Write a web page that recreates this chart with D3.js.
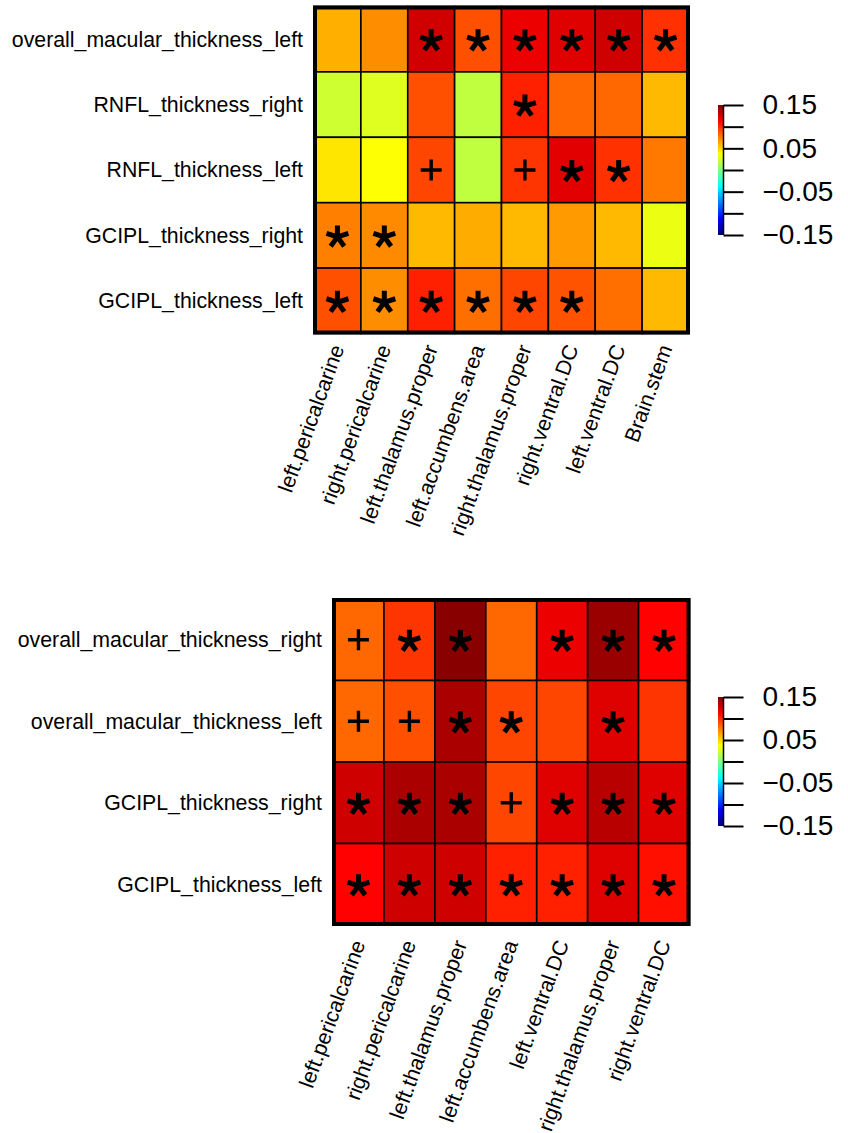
<!DOCTYPE html>
<html>
<head>
<meta charset="utf-8">
<script src="https://cdn.jsdelivr.net/npm/d3@7"></script>
<style>
  html, body { margin: 0; padding: 0; background: #fff; }
  svg { display: block; font-family: "Liberation Sans", Arial, Helvetica, sans-serif; }
</style>
</head>
<body>
<svg id="chart" width="848" height="1133"></svg>
<script>
// ---------- DATA ----------
const topRows = ["overall_macular_thickness_left", "RNFL_thickness_right", "RNFL_thickness_left", "GCIPL_thickness_right", "GCIPL_thickness_left"];
const topCols = ["left.pericalcarine", "right.pericalcarine", "left.thalamus.proper", "left.accumbens.area", "right.thalamus.proper", "right.ventral.DC", "left.ventral.DC", "Brain.stem"];
const topValues = [
  [0.061, 0.071, 0.126, 0.089, 0.118, 0.122, 0.127, 0.098],
  [0.023, 0.028, 0.089, 0.019, 0.103, 0.082, 0.082, 0.058],
  [0.045, 0.037, 0.092, 0.019, 0.097, 0.121, 0.098, 0.077],
  [0.075, 0.072, 0.058, 0.062, 0.058, 0.067, 0.058, 0.032],
  [0.089, 0.071, 0.103, 0.080, 0.092, 0.088, 0.080, 0.058]
];
const topSig = [
  ["", "", "*", "*", "*", "*", "*", "*"],
  ["", "", "", "", "*", "", "", ""],
  ["", "", "+", "", "+", "*", "*", ""],
  ["*", "*", "", "", "", "", "", ""],
  ["*", "*", "*", "*", "*", "*", "", ""]
];

const botRows = ["overall_macular_thickness_right", "overall_macular_thickness_left", "GCIPL_thickness_right", "GCIPL_thickness_left"];
const botCols = ["left.pericalcarine", "right.pericalcarine", "left.thalamus.proper", "left.accumbens.area", "left.ventral.DC", "right.thalamus.proper", "right.ventral.DC"];
const botValues = [
  [0.082, 0.097, 0.147, 0.082, 0.118, 0.142, 0.112],
  [0.082, 0.089, 0.137, 0.092, 0.092, 0.122, 0.097],
  [0.127, 0.137, 0.137, 0.092, 0.122, 0.133, 0.122],
  [0.112, 0.127, 0.127, 0.103, 0.103, 0.122, 0.108]
];
const botSig = [
  ["+", "*", "*", "", "*", "*", "*"],
  ["+", "+", "*", "*", "", "*", ""],
  ["*", "*", "*", "+", "*", "*", "*"],
  ["*", "*", "*", "*", "*", "*", "*"]
];

const legendTicks = [-0.15, -0.10, -0.05, 0, 0.05, 0.10, 0.15];
const legendLabels = [0.15, 0.05, -0.05, -0.15];
const colorDomain = [-0.15, 0.15];

// ---------- COLOR (jet-like) ----------
const jetStops = ["#00007F", "#0000FF", "#00FFFF", "#FFFF00", "#FF0000", "#7F0000"];
const jetPos = [0, 0.125, 0.375, 0.625, 0.875, 1];
const color = d3.scaleLinear()
  .domain(jetPos.map(p => colorDomain[0] + p * (colorDomain[1] - colorDomain[0])))
  .range(jetStops)
  .interpolate(d3.interpolateRgb)
  .clamp(true);

const svg = d3.select("#chart");
svg.append("rect").attr("width", 848).attr("height", 1133).attr("fill", "#fff");

function fmt(v) { return (v < 0 ? "\u2212" : "") + Math.abs(v).toFixed(2); }

// 5-armed asterisk path (Helvetica style), radius r, centred at 0,0
function asteriskPath(r) {
  const angles = [-90, -18, 54, 126, 198];
  return angles.map(a => {
    const t = a * Math.PI / 180;
    return `M0,0L${(r * Math.cos(t)).toFixed(2)},${(r * Math.sin(t)).toFixed(2)}`;
  }).join("");
}
function plusPath(h) {
  return `M${-h},0H${h}M0,${-h}V${h}`;
}

function drawPanel(cfg) {
  const g = svg.append("g");
  const x = d3.scaleBand().domain(cfg.cols).range([cfg.x0, cfg.x1]);
  const y = d3.scaleBand().domain(cfg.rows).range([cfg.y0, cfg.y1]);

  const cells = [];
  cfg.rows.forEach((r, i) => cfg.cols.forEach((c, j) => cells.push({ r, c, v: cfg.values[i][j], s: cfg.sig[i][j] })));

  g.selectAll("rect.cell").data(cells).enter().append("rect")
    .attr("class", "cell")
    .attr("x", d => x(d.c)).attr("y", d => y(d.r))
    .attr("width", x.bandwidth()).attr("height", y.bandwidth())
    .attr("fill", d => color(d.v))
    .attr("stroke", "#000").attr("stroke-width", 1.6);

  // significance markers
  g.selectAll("path.star").data(cells.filter(d => d.s === "*")).enter().append("path")
    .attr("class", "star")
    .attr("d", asteriskPath(11.5))
    .attr("transform", d => `translate(${x(d.c) + x.bandwidth() / 2},${y(d.r) + y.bandwidth() / 2 + 1.5})`)
    .attr("fill", "none").attr("stroke", "#000").attr("stroke-width", 5).attr("stroke-linecap", "butt");
  g.selectAll("path.plus").data(cells.filter(d => d.s === "+")).enter().append("path")
    .attr("class", "plus")
    .attr("d", plusPath(10.5))
    .attr("transform", d => `translate(${x(d.c) + x.bandwidth() / 2},${y(d.r) + y.bandwidth() / 2})`)
    .attr("fill", "none").attr("stroke", "#000").attr("stroke-width", 3.4);

  // outer border
  g.append("rect")
    .attr("x", cfg.x0 + 1).attr("y", cfg.y0 + 1)
    .attr("width", cfg.x1 - cfg.x0 - 2).attr("height", cfg.y1 - cfg.y0 - 2)
    .attr("fill", "none").attr("stroke", "#000").attr("stroke-width", 4);

  // row labels
  g.selectAll("text.rlab").data(cfg.rows).enter().append("text")
    .attr("class", "rlab")
    .attr("text-anchor", "end")
    .attr("font-size", 21.3)
    .attr("x", cfg.x0 - 11)
    .attr("y", d => y(d) + y.bandwidth() / 2)
    .attr("dy", "0.35em")
    .text(d => d);

  // column labels
  g.selectAll("text.clab").data(cfg.cols).enter().append("text")
    .attr("class", "clab")
    .attr("text-anchor", "end")
    .attr("font-size", 21.3)
    .attr("transform", d => `translate(${x(d) + x.bandwidth() / 2},${cfg.y1 + cfg.labGap}) rotate(-70)`)
    .attr("dy", "0.35em")
    .text(d => d);

  // legend colorbar
  const ly = d3.scaleLinear().domain(colorDomain).range([cfg.legY1, cfg.legY0]);
  const gradId = "grad" + cfg.id;
  const grad = svg.append("defs").append("linearGradient")
    .attr("id", gradId).attr("x1", 0).attr("y1", 1).attr("x2", 0).attr("y2", 0);
  d3.range(0, 1.0001, 0.025).forEach(t => {
    grad.append("stop").attr("offset", t)
      .attr("stop-color", color(colorDomain[0] + t * (colorDomain[1] - colorDomain[0])));
  });
  g.append("rect")
    .attr("x", 718).attr("y", cfg.legY0)
    .attr("width", 6).attr("height", cfg.legY1 - cfg.legY0)
    .attr("fill", `url(#${gradId})`);

  const axis = d3.axisRight(ly)
    .tickValues(legendTicks)
    .tickSize(20)
    .tickPadding(19)
    .tickFormat(v => legendLabels.some(l => Math.abs(l - v) < 1e-9) ? fmt(v) : "");
  const ag = g.append("g").attr("transform", "translate(723.5,0)").call(axis);
  ag.select(".domain").attr("stroke", "#000").attr("stroke-width", 1.5).attr("d", `M0,${cfg.legY0}V${cfg.legY1}`);
  ag.selectAll(".tick line").attr("stroke", "#000").attr("stroke-width", 2);
  ag.selectAll(".tick text").attr("font-size", 28).attr("fill", "#000")
    .attr("font-family", '"Liberation Sans", Arial, Helvetica, sans-serif');
}

drawPanel({
  id: "top", rows: topRows, cols: topCols, values: topValues, sig: topSig,
  x0: 314, x1: 689, y0: 6.5, y1: 333.5, labGap: 12,
  legY0: 105, legY1: 235
});
drawPanel({
  id: "bot", rows: botRows, cols: botCols, values: botValues, sig: botSig,
  x0: 333, x1: 689.5, y0: 599, y1: 925, labGap: 16,
  legY0: 697, legY1: 826
});
</script>
</body>
</html>
